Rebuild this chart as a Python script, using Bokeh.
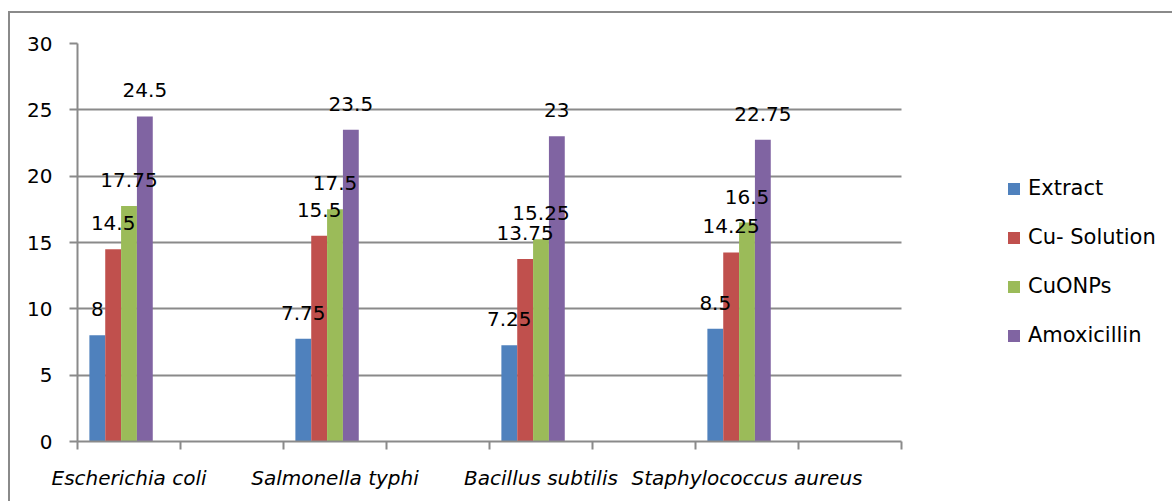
from bokeh.plotting import figure
from bokeh.models import Range1d, FixedTicker, Legend, LegendItem, ColumnDataSource, LabelSet
from bokeh.core.properties import value
from bokeh.embed import file_html
from bokeh.resources import INLINE

species = ["Escherichia coli", "Salmonella typhi", "Bacillus subtilis", "Staphylococcus aureus"]
series = ["Extract", "Cu- Solution", "CuONPs", "Amoxicillin"]
extract = [8, 7.75, 7.25, 8.5]
cu_solution = [14.5, 15.5, 13.75, 14.25]
cuonps = [17.75, 17.5, 15.25, 16.5]
amoxicillin = [24.5, 23.5, 23, 22.75]
values = [extract, cu_solution, cuonps, amoxicillin]
colors = ["#4F81BD", "#C0504D", "#9BBB59", "#8064A2"]
y_ticks = [0, 5, 10, 15, 20, 25, 30]

n_slots = 8          # one empty category after each species
n_bar_slots = 5      # chart reserves room for five series
gap = 1.5
w = 1.0 / (n_bar_slots + gap)

FONT = "DejaVu Sans"
GRAY = "#8a8a8a"

W, H = 1164, 490
LEFT, TOP, BOTTOM = 67, 30, 62
plot_px = 824                       # pixel width of the category area
frame_w = W - LEFT
x_end = n_slots * frame_w / plot_px  # frame extends under the legend area

p = figure(width=W, height=H, output_backend="svg", toolbar_location=None,
           x_range=Range1d(0, x_end), y_range=Range1d(0, 30),
           min_border_left=LEFT, min_border_top=TOP, min_border_right=0, min_border_bottom=BOTTOM)
p.styles = {"border-left": f"2px solid {GRAY}", "border-top": f"2px solid {GRAY}",
            "margin-top": "11px", "margin-left": "8px"}
p.outline_line_color = None
p.background_fill_color = "white"
p.border_fill_color = "white"

items = []
for k, (name, vals, col) in enumerate(zip(series, values, colors)):
    xs = [2 * i + gap / 2 * w + (k + 0.5) * w for i in range(len(species))]
    src = ColumnDataSource(dict(x=xs, top=vals, lbl=[f"{v:g}" for v in vals]))
    r = p.vbar(x="x", top="top", width=w, bottom=0, source=src, fill_color=col, line_color=None)
    items.append(LegendItem(label=name, renderers=[r]))
    labels = LabelSet(x="x", y="top", text="lbl", source=src, y_offset=26,
                      text_align="center", text_baseline="middle",
                      text_font=value(FONT), text_font_size=value("20px"), text_color="black")
    p.add_layout(labels)

# x axis
p.xaxis.bounds = (0, n_slots)
p.xaxis.ticker = FixedTicker(ticks=[2 * i + 0.5 for i in range(len(species))],
                             minor_ticks=list(range(n_slots + 1)))
p.xaxis.major_label_overrides = {2 * i + 0.5: s for i, s in enumerate(species)}
p.xaxis.major_tick_line_color = None
p.xaxis.minor_tick_line_color = GRAY
p.xaxis.minor_tick_line_width = 2
p.xaxis.minor_tick_out = 8
p.xaxis.minor_tick_in = 0
p.xaxis.axis_line_color = GRAY
p.xaxis.axis_line_width = 2
p.xaxis.major_label_text_font = FONT
p.xaxis.major_label_text_font_style = "italic"
p.xaxis.major_label_text_font_size = "20px"
p.xaxis.major_label_text_color = "black"
p.xaxis.major_label_standoff = 16

# y axis
p.yaxis.ticker = FixedTicker(ticks=y_ticks)
p.yaxis.major_tick_line_color = GRAY
p.yaxis.major_tick_line_width = 2
p.yaxis.major_tick_out = 8
p.yaxis.major_tick_in = 0
p.yaxis.minor_tick_line_color = None
p.yaxis.axis_line_color = GRAY
p.yaxis.axis_line_width = 2
p.yaxis.major_label_text_font = FONT
p.yaxis.major_label_text_font_size = "20px"
p.yaxis.major_label_text_color = "black"
p.yaxis.major_label_standoff = 17

p.xgrid.grid_line_color = None
p.ygrid.grid_line_color = GRAY
p.ygrid.grid_line_width = 2
p.ygrid.cross_bounds = (0, n_slots)

legend = Legend(items=items, location=(929, 94), orientation="vertical",
                label_text_font=FONT, label_text_font_size="21px", label_text_color="black",
                glyph_width=15, glyph_height=15, label_standoff=7, spacing=25,
                padding=0, margin=0, border_line_color=None, background_fill_alpha=0)
p.add_layout(legend)

open("out.html", "w").write(file_html(p, INLINE))
